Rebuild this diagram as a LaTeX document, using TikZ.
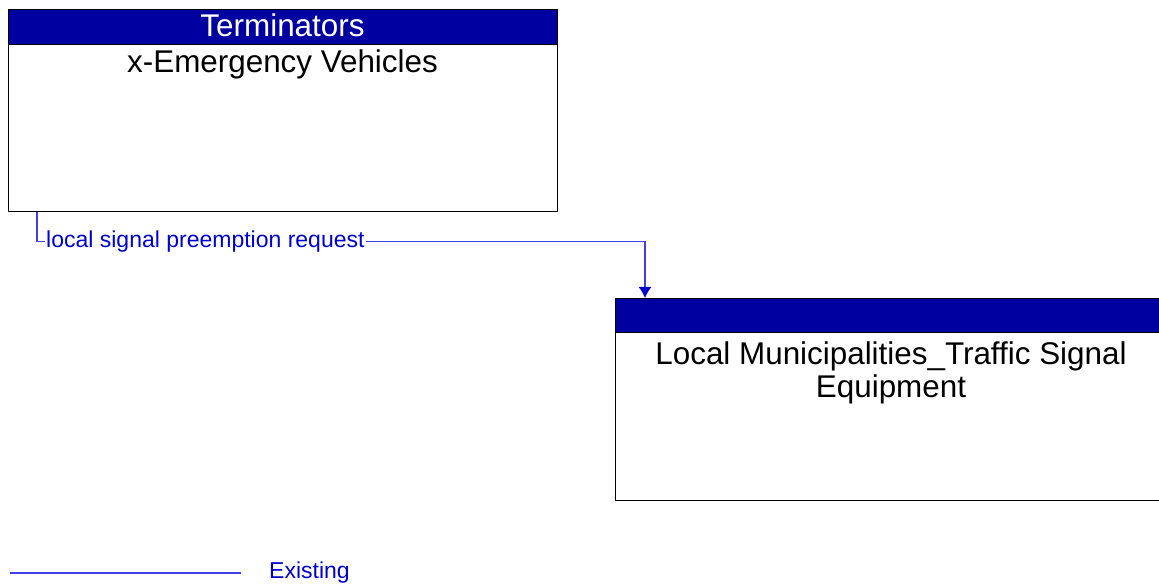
\documentclass[tikz,border=0pt]{standalone}
\usepackage{fontspec}
\setmainfont{Liberation Sans}
\usepackage{tikz}
\usetikzlibrary{arrows.meta}

\definecolor{hdrblue}{RGB}{0,0,160}
\definecolor{flowblue}{RGB}{64,64,230}
\definecolor{lblblue}{RGB}{0,0,204}

\tikzset{
  elem/.style={draw=black, line width=0.9pt, inner sep=0pt, anchor=north west,
    minimum height=202pt},
  hdr/.style={draw=black, line width=0.9pt, fill=hdrblue},
  boxtext/.style={font=\fontsize{31.4}{33}\selectfont, align=center, inner sep=0pt},
  flow/.style={draw=flowblue, line width=1.2pt},
  flowlbl/.style={font=\fontsize{23}{26}\selectfont, text=lblblue, fill=white,
    inner sep=1pt}
}

\begin{document}
\begin{tikzpicture}[x=1pt,y=-1pt]
    \useasboundingbox (0,0) rectangle (1159,585);
    % Terminator box
    \node[elem, minimum width=549pt] (emv) at (8,9) {};
    \draw[hdr] (emv.north west) rectangle ([yshift=-35pt]emv.north east);
    \node[boxtext, text=white, anchor=base] (emvhdr) at (282.5,37) {Terminators};
    \node[boxtext, anchor=base] (emvname) at (282.5,73) {x-Emergency Vehicles};
    % Element box (runs off the right edge)
    \node[elem, minimum width=552pt] (lmt) at (615,298) {};
    \draw[hdr] (lmt.north west) rectangle ([yshift=-34pt]lmt.north east);
    \node[boxtext, anchor=base] (lmtname) at (891,397)
      {Local Municipalities\_Traffic Signal\\Equipment};
    % Flow
    \draw[flow, -{Latex[length=11pt,width=13pt,fill=lblblue,color=lblblue]}]
      ([xshift=29pt]emv.south west)
      -- ++(0,30) coordinate (bend) -| ([xshift=30pt]lmt.north west);
    \node[flowlbl, anchor=west] (req) at ([xshift=8pt]bend)
      {local signal preemption request};
    % Legend
    \coordinate (lgA) at (10,573);
    \coordinate (lgB) at (241,573);
    \draw[flow] (lgA) -- (lgB);
    \node[flowlbl, anchor=west] (lgtxt) at (268,573) {Existing};
\end{tikzpicture}
\end{document}
